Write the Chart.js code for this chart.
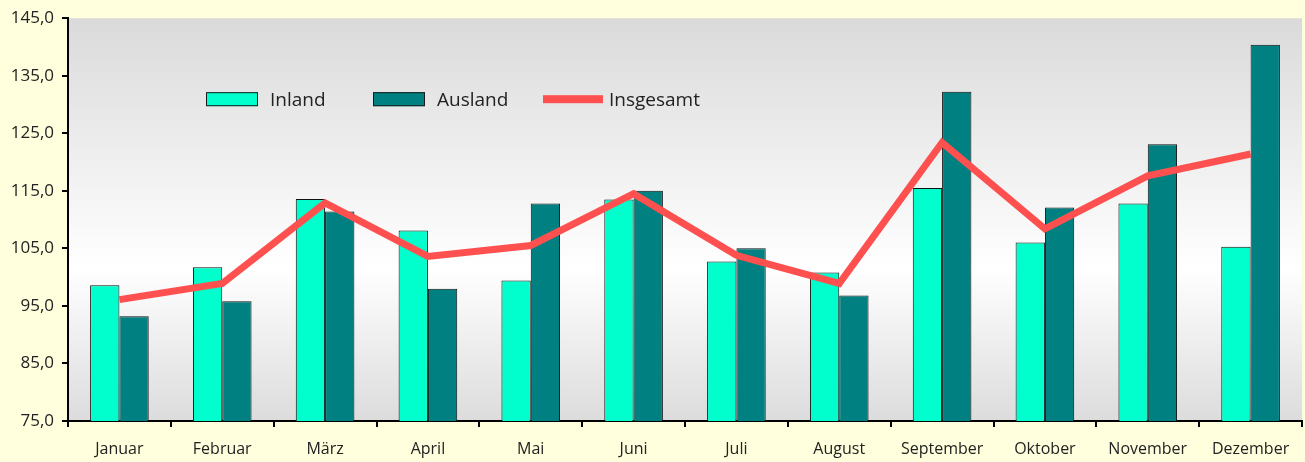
<!DOCTYPE html>
<html>
<head>
<meta charset="utf-8">
<script src="https://cdn.jsdelivr.net/npm/chart.js@4/dist/chart.umd.min.js"></script>
<style>
  html, body { margin: 0; padding: 0; background: #FFFFDD; }
  #wrap { width: 1305px; height: 462px; position: relative; }
</style>
</head>
<body>
<div id="wrap"><canvas id="c"></canvas></div>
<script>
const months = ['Januar', 'Februar', 'März', 'April', 'Mai', 'Juni', 'Juli', 'August', 'September', 'Oktober', 'November', 'Dezember'];
const inland = [98.6, 101.7, 113.6, 108.1, 99.4, 113.5, 102.7, 100.8, 115.5, 106.0, 112.8, 105.3];
const ausland = [93.2, 95.8, 111.4, 98.0, 112.8, 115.0, 105.0, 96.8, 132.2, 112.1, 123.1, 140.4];
const insgesamt = [96.1, 98.9, 112.9, 103.6, 105.5, 114.5, 103.8, 98.9, 123.4, 108.4, 117.6, 121.4];
const yMin = 75, yMax = 145, yStep = 10;

const FONT = "'Open Sans', 'Noto Sans', sans-serif";

// grey-white-grey plot background
const plotBg = {
  id: 'plotBg',
  beforeDraw(chart) {
    const { ctx, chartArea: a } = chart;
    ctx.save();
    ctx.fillStyle = '#FFFFDD';
    ctx.fillRect(0, 0, chart.width, chart.height);
    const g = ctx.createLinearGradient(0, a.top, 0, a.bottom);
    g.addColorStop(0, '#dadada');
    g.addColorStop(0.62, '#ffffff');
    g.addColorStop(1, '#dcdcdc');
    ctx.fillStyle = g;
    ctx.fillRect(a.left, a.top, a.right - a.left, a.bottom - a.top);
    ctx.restore();
  }
};

// legend sits inside the plot area
const innerLegend = {
  id: 'innerLegend',
  afterDraw(chart) {
    const { ctx, chartArea: a } = chart;
    const y = a.top + 81;
    ctx.save();
    ctx.font = '19px ' + FONT;
    ctx.textBaseline = 'middle';
    ctx.fillStyle = '#222';
    const items = [
      { x: 138, type: 'box', color: '#00FFCC', text: 'Inland' },
      { x: 305, type: 'box', color: '#008080', text: 'Ausland' },
      { x: 475, type: 'line', color: '#FF5050', text: 'Insgesamt' }
    ];
    items.forEach(it => {
      const x = a.left + it.x;
      if (it.type === 'box') {
        ctx.fillStyle = it.color;
        ctx.fillRect(x, y - 7, 52, 14);
        ctx.strokeStyle = '#1a1a1a';
        ctx.lineWidth = 1;
        ctx.strokeRect(x + 0.5, y - 6.5, 51, 13);
        ctx.fillStyle = '#222';
        ctx.fillText(it.text, x + 64, y + 1);
      } else {
        ctx.fillStyle = it.color;
        ctx.fillRect(x, y - 4, 60, 8);
        ctx.fillStyle = '#222';
        ctx.fillText(it.text, x + 66, y + 1);
      }
    });
    ctx.restore();
  }
};

new Chart(document.getElementById('c'), {
  data: {
    labels: months,
    datasets: [
      {
        type: 'line', label: 'Insgesamt', data: insgesamt, order: 0,
        borderColor: '#FF5050', borderWidth: 7, pointRadius: 0, tension: 0,
        borderJoinStyle: 'miter', borderCapStyle: 'butt', fill: false
      },
      {
        type: 'bar', label: 'Inland', data: inland, order: 1,
        backgroundColor: '#00FFCC', borderColor: '#111', borderWidth: 1
      },
      {
        type: 'bar', label: 'Ausland', data: ausland, order: 2,
        backgroundColor: '#008080', borderColor: '#111', borderWidth: 1
      }
    ]
  },
  options: {
    responsive: true,
    maintainAspectRatio: false,
    animation: false,
    events: [],
    layout: { padding: { top: 17, right: 3, left: 0, bottom: 0 } },
    datasets: { bar: { barPercentage: 1, categoryPercentage: 0.57 } },
    plugins: { legend: { display: false }, tooltip: { enabled: false } },
    scales: {
      x: {
        offset: true,
        border: { color: '#000', width: 2 },
        grid: { offset: true, drawOnChartArea: false, drawTicks: true, tickLength: 6, color: '#000', lineWidth: 2 },
        ticks: { color: '#222', font: { family: FONT, size: 16 }, padding: 13, maxRotation: 0 },
        afterFit(s) { s.height = 41; }
      },
      y: {
        min: yMin, max: yMax,
        border: { color: '#000', width: 2 },
        grid: { drawOnChartArea: false, drawTicks: true, tickLength: 6, color: '#000', lineWidth: 2 },
        ticks: {
          stepSize: yStep, color: '#222', padding: 8,
          font: { family: FONT, size: 17 },
          callback: v => v.toFixed(1).replace('.', ',')
        },
        afterFit(s) { s.width = 68; }
      }
    }
  },
  plugins: [plotBg, innerLegend]
});
</script>
</body>
</html>
